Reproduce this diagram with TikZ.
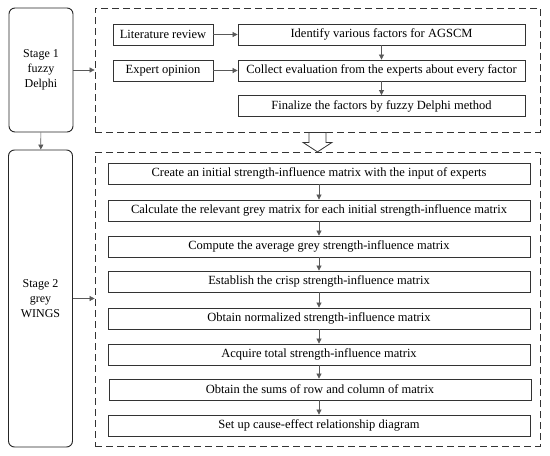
\documentclass[tikz,border=0pt]{standalone}
\usepackage{fontspec}
\setmainfont{Liberation Serif}
\usetikzlibrary{arrows.meta,calc}
\begin{document}
\begin{tikzpicture}[x=1pt,y=-1pt,
  txt/.style={font=\fontsize{12.5}{15}\selectfont},
  box/.style={txt, draw=black!80, line width=0.8pt, inner sep=0pt, minimum height=21},
  wide/.style={box, minimum width=422},
  stagebox/.style={font=\fontsize{12}{15}\selectfont, draw=black!85, line width=0.9pt, rounded corners=6pt, minimum width=64, align=center, inner sep=0pt},
  dbox/.style={draw=black!80, line width=0.8pt, dash pattern=on 7pt off 4pt, inner sep=0pt},
  conn/.style={draw=black!65, line width=0.7pt, -{Triangle[length=5pt,width=5pt]}}]
\path[use as bounding box, fill=white] (0,0) rectangle (550,456);

% stages
\node[stagebox, minimum height=124] (s1) at (41,70) {Stage 1\\fuzzy\\Delphi};
\node[stagebox, minimum height=297] (s2) at (40.5,298.5) {Stage 2\\grey\\WINGS};

% dashed containers
\node[dbox, minimum width=445, minimum height=124] (d1) at (317.5,70) {};
\node[dbox, minimum width=445, minimum height=294] (d2) at (317.5,299) {};

% top section
\node[box, minimum width=100] (lit) at (163,34.5) {Literature review};
\node[box, minimum width=287] (iden) at (381.5,34.5) {Identify various factors for AGSCM};
\node[box, minimum width=100] (exp) at (163,70.5) {Expert opinion};
\node[box, minimum width=287] (col) at (381.5,70.5) {Collect evaluation from the experts about every factor};
\node[box, minimum width=287] (fin) at (381.5,106) {Finalize the factors by fuzzy Delphi method};

% bottom section
\node[wide] (b1) at (319,173.5) {Create an initial strength-influence matrix with the input of experts};
\node[wide] (b2) at (319,210.5) {Calculate the relevant grey matrix for each initial strength-influence matrix};
\node[wide] (b3) at (319,246.5) {Compute the average grey strength-influence matrix};
\node[wide] (b4) at (319,281.5) {Establish the crisp strength-influence matrix};
\node[wide] (b5) at (319,318.5) {Obtain normalized strength-influence matrix};
\node[wide] (b6) at (319,354.5) {Acquire total strength-influence matrix};
\node[wide] (b7) at (320,389.5) {Obtain the sums of row and column of matrix};
\node[wide] (b8) at (319,425.5) {Set up cause-effect relationship diagram};

% connectors
\draw[conn] (s1) -- (s2);
\draw[conn] (s1.east) -- (d1.west);
\draw[conn] (s2.east) -- (s2.east -| d2.west);
\draw[conn] (lit) -- (iden);
\draw[conn] (exp) -- (col);
\draw[conn] (iden) -- (col);
\draw[conn] (col) -- (fin);
\foreach \a/\b in {b1/b2,b2/b3,b3/b4,b4/b5,b5/b6,b6/b7,b7/b8}
  \draw[conn] (\a.south -| b1.south) -- (\b.north -| b1.south);

% hollow block arrow between stages
\coordinate (ha) at (d1.south);
\draw[draw=black!80, line width=0.8pt, fill=white]
  ($(ha)+(-8.5,0)$) -- ($(ha)+(8.5,0)$) -- ($(ha)+(8.5,10)$) -- ($(ha)+(14.5,10)$)
  -- ($(ha)+(0,19.5)$) -- ($(ha)+(-14.5,10)$) -- ($(ha)+(-8.5,10)$) -- cycle;
\end{tikzpicture}
\end{document}
